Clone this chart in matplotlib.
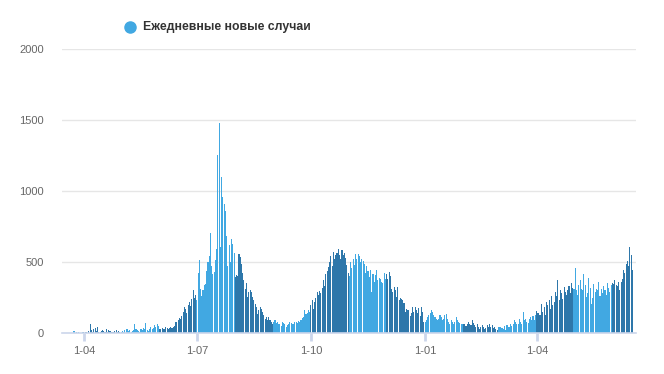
import pandas as pd
import matplotlib
matplotlib.use("Agg")
import matplotlib.pyplot as plt
from matplotlib.lines import Line2D
from datetime import datetime

plt.rcParams['font.family'] = ['Liberation Sans', 'DejaVu Sans']

# daily new cases, one list per month (first day 2020-03-14)
mar_2020 = [0, 0, 0, 0, 0, 0, 0, 0, 0, 0, 15, 3, 8, 2, 10, 0, 3, 5]
apr_2020 = [8, 5, 10, 3, 12, 60, 20, 10, 30, 35, 15, 40, 10, 8, 15, 20, 12, 6, 25, 10,
            18, 12, 8, 5, 10, 15, 20, 8, 12, 10]
may_2020 = [10, 15, 8, 20, 30, 25, 12, 18, 10, 15, 22, 65, 30, 20, 15, 10, 25, 18, 35, 28,
            70, 20, 15, 30, 40, 25, 35, 55, 45, 60, 50]
jun_2020 = [30, 25, 35, 28, 30, 40, 35, 30, 35, 40, 38, 45, 50, 80, 75, 90, 105, 100, 120, 150,
            180, 170, 140, 200, 220, 190, 240, 300, 250, 270]
jul_2020 = [230, 425, 512, 312, 264, 300, 335, 348, 440, 500, 540, 706, 475, 418, 430, 512,
            589, 1250, 1480, 605, 1100, 960, 910, 860, 680, 475, 620, 500, 660, 630, 560]
aug_2020 = [394, 405, 400, 558, 535, 488, 420, 370, 312, 350, 253, 288, 300, 288, 253, 230,
            206, 180, 136, 160, 183, 171, 150, 124, 100, 112, 89, 112, 89, 75, 66]
sep_2020 = [77, 89, 70, 75, 60, 65, 50, 80, 70, 65, 42, 55, 60, 75, 70, 60, 66, 80, 75, 70,
            85, 80, 95, 108, 110, 164, 136, 140, 160, 150]
oct_2020 = [195, 230, 170, 215, 250, 289, 270, 295, 280, 320, 371, 330, 418, 440, 465, 500,
            540, 470, 570, 520, 548, 560, 594, 548, 520, 582, 550, 560, 530, 480, 420]
nov_2020 = [400, 500, 460, 523, 480, 558, 520, 558, 540, 500, 523, 510, 488, 420, 470, 440,
            394, 441, 289, 413, 359, 406, 441, 371, 390, 380, 360, 350, 420, 380]
dec_2020 = [418, 380, 430, 400, 312, 290, 324, 300, 253, 324, 230, 250, 240, 230, 210, 148,
            170, 160, 164, 120, 140, 180, 150, 183, 160, 140, 175, 120, 183, 150, 77]
jan_2021 = [77, 89, 110, 125, 140, 160, 150, 130, 113, 100, 90, 100, 125, 110, 90, 100, 125,
            136, 100, 80, 66, 90, 75, 66, 80, 113, 90, 75, 70, 60, 66]
feb_2021 = [66, 60, 50, 66, 77, 60, 55, 89, 70, 54, 45, 60, 40, 30, 42, 55, 40, 30, 35, 54,
            45, 61, 40, 55, 35, 45, 30, 20]
mar_2021 = [42, 40, 45, 35, 30, 47, 20, 54, 40, 45, 66, 50, 60, 89, 80, 66, 60, 100, 75, 66,
            148, 89, 100, 80, 70, 100, 110, 90, 120, 95, 130]
apr_2021 = [155, 140, 124, 130, 206, 150, 180, 130, 218, 200, 230, 170, 258, 200, 220, 289,
            260, 371, 230, 300, 280, 240, 324, 290, 270, 305, 330, 280, 350, 320]
may_2021 = [312, 460, 300, 266, 335, 371, 310, 300, 413, 340, 253, 280, 390, 320, 206, 250,
            347, 290, 312, 300, 359, 260, 312, 280, 330, 300, 270, 350, 320, 290, 340]
jun_2021 = [354, 347, 371, 340, 330, 360, 300, 359, 380, 441, 420, 488, 505, 470, 605, 546, 446]

tick_dates = ["2020-04-01", "2020-07-01", "2020-10-01", "2021-01-01", "2021-04-01"]
tick_labels = ["1-04", "1-07", "1-10", "1-01", "1-04"]
y_ticks = [0, 500, 1000, 1500, 2000]
legend_label = "Ежедневные новые случаи"

months = [mar_2020, apr_2020, may_2020, jun_2020, jul_2020, aug_2020, sep_2020, oct_2020,
          nov_2020, dec_2020, jan_2021, feb_2021, mar_2021, apr_2021, may_2021, jun_2021]
values = [v for m in months for v in m]
dates = pd.date_range("2020-03-14", periods=len(values), freq="D")

light = "#41a8e2"
dark = "#2e77aa"
# colour alternates month by month
colors = [light if (d.year * 12 + d.month) % 2 == 1 else dark for d in dates]

fig = plt.figure(figsize=(6.64, 3.74), dpi=100)
ax = fig.add_axes([62 / 664, 41 / 374, 574 / 664, 284 / 374])

ax.bar(dates, values, width=0.86, color=colors, linewidth=0, antialiased=False, zorder=2)

ax.set_ylim(0, 2000)
ax.set_xlim(datetime(2020, 3, 14, 8), datetime(2021, 6, 20))
ax.set_yticks(y_ticks)
ax.set_xticks([pd.Timestamp(d) for d in tick_dates])
ax.set_xticklabels(tick_labels)
ax.grid(axis="y", color="#e6e6e6", linewidth=1, zorder=0)

for s in ["top", "right", "left"]:
    ax.spines[s].set_visible(False)
ax.spines["bottom"].set_color("#ccd6eb")
ax.spines["bottom"].set_linewidth(1.2)
ax.spines["bottom"].set_zorder(3)

ax.tick_params(axis="y", length=0, pad=13, labelsize=8, labelcolor="#666666")
ax.tick_params(axis="x", length=6, width=2, color="#ccd6eb", pad=3,
               labelsize=8, labelcolor="#666666")

fig.add_artist(Line2D([130 / 664], [1 - 27 / 374], marker="o", markersize=8,
                      color=light, linestyle="", transform=fig.transFigure))
fig.text(143 / 664, 1 - 27 / 374, legend_label, fontsize=8.8, fontweight="bold",
         color="#333333", va="center", ha="left")

fig.savefig("out.png", dpi=100)
